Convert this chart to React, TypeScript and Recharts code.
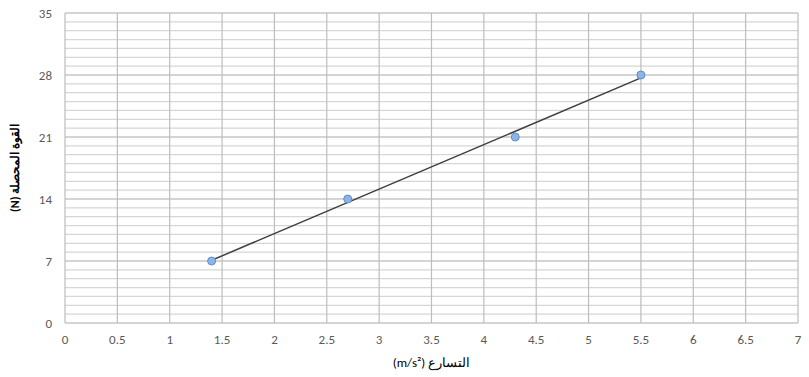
import {
  ComposedChart, Scatter, XAxis, YAxis, CartesianGrid, Label,
} from 'recharts';

const accel = [1.4, 2.7, 4.3, 5.5];
const force = [7, 14, 21, 28];
const xTicks = [0, 0.5, 1, 1.5, 2, 2.5, 3, 3.5, 4, 4.5, 5, 5.5, 6, 6.5, 7];
const yTicks = [0, 7, 14, 21, 28, 35];
const yMinor = Array.from({ length: 36 }, (_, i) => i);

const points = accel.map((x, i) => ({ x, y: force[i] }));

// least squares trendline over the data range
const n = accel.length;
const mx = accel.reduce((a, b) => a + b, 0) / n;
const my = force.reduce((a, b) => a + b, 0) / n;
const sxy = accel.reduce((s, x, i) => s + (x - mx) * (force[i] - my), 0);
const sxx = accel.reduce((s, x) => s + (x - mx) ** 2, 0);
const slope = sxy / sxx;
const icpt = my - slope * mx;
const xMin = Math.min(...accel);
const xMax = Math.max(...accel);
const trend = [xMin, xMax].map(x => ({ x, y: slope * x + icpt }));

const font = 'Carlito, "Liberation Sans", Arial, sans-serif';
const tick = { fill: '#595959', fontSize: 13, fontFamily: font };

const Dot = (p: any) => (
  <circle cx={p.cx} cy={p.cy} r={4} fill="#8db4e2" stroke="#5b8fd0" strokeWidth={1} />
);

export default function App() {
  return (
    <div style={{ position: 'absolute', left: 0, top: 0, width: 809, height: 377, background: '#fff' }}>
      <ComposedChart width={809} height={377} margin={{ top: 13, right: 11, bottom: 14, left: 0 }}>
        <CartesianGrid horizontalValues={yMinor} vertical={false} stroke="#d6d6d6" strokeWidth={1.2} />
        <CartesianGrid horizontalValues={yTicks} verticalValues={xTicks} stroke="#bdbdbd" strokeWidth={1.2} />
        <XAxis
          type="number" dataKey="x" domain={[0, 7]} ticks={xTicks} interval={0}
          axisLine={false} tickLine={false} tickSize={0} tickMargin={12} height={40} tick={tick}
        >
          <Label value="(m/s²) التسارع" position="insideBottom" offset={-4}
            style={{ fill: '#000', fontSize: 13, fontFamily: font }} />
        </XAxis>
        <YAxis
          type="number" dataKey="y" domain={[0, 35]} ticks={yTicks} interval={0}
          axisLine={false} tickLine={false} tickSize={0} tickMargin={13} width={65} tick={tick}
        >
          <Label value="(N) القوة المحصلة" angle={-90} position="insideLeft" offset={15}
            style={{ fill: '#000', fontSize: 12, fontWeight: 'bold', fontFamily: font, textAnchor: 'middle' }} />
        </YAxis>
        <Scatter data={trend} line={{ stroke: '#404040', strokeWidth: 1.5 }} shape={() => <g />}
          isAnimationActive={false} />
        <Scatter data={points} shape={Dot} isAnimationActive={false} />
      </ComposedChart>
    </div>
  );
}
